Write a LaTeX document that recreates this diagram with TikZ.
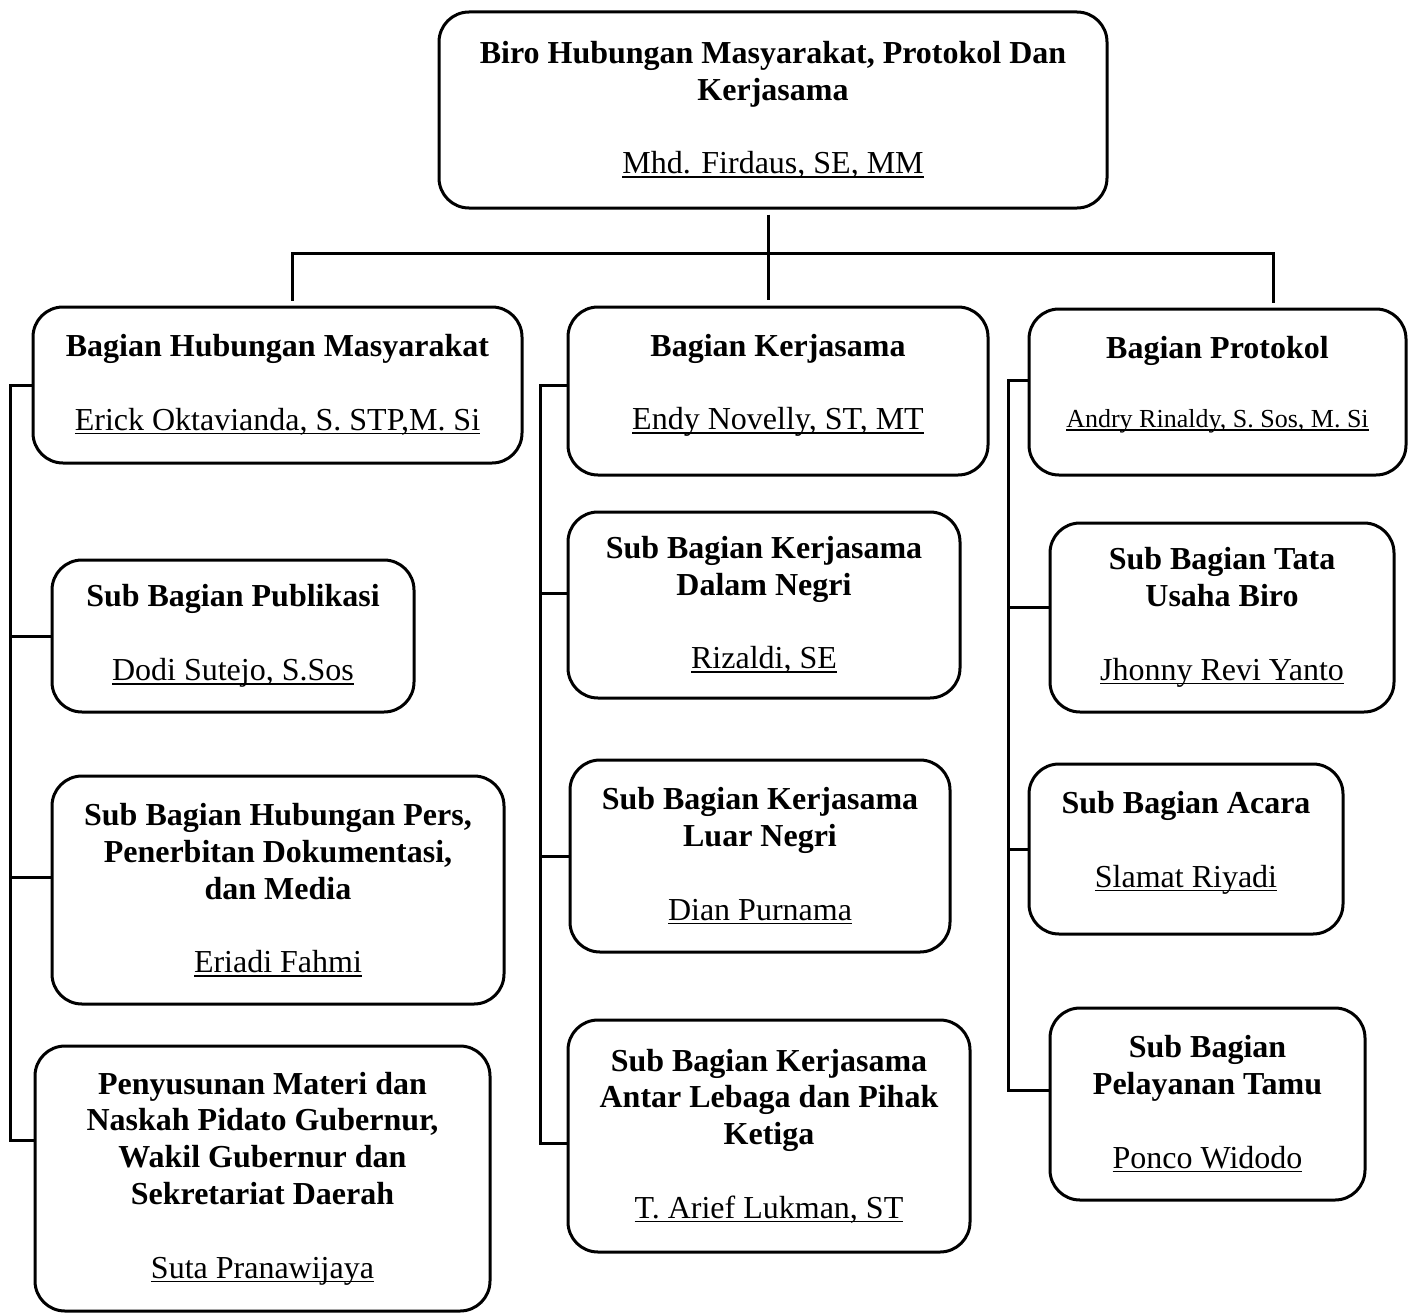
\documentclass[tikz,border=0pt]{standalone}
\usepackage{fontspec}
\setmainfont{Liberation Serif}
\usetikzlibrary{positioning}
\tikzset{
kotak/.style = {draw, line width=3pt, rounded corners=30pt, align=center,
                inner sep=0pt, font=\fontsize{32}{36.8}\selectfont},
garis/.style = {line width=3pt}
}
% name with a low underline
\newcommand{\nama}[1]{\setbox0\hbox{#1}\rlap{\rule[-4pt]{\wd0}{1.6pt}}\box0}
% box from corner (x1,y1) to (x2,y2)
\newcommand{\bagian}[7][]{%
  \pgfmathsetmacro{\bw}{#5-#3}%
  \pgfmathsetmacro{\bh}{#6-#4}%
  \pgfmathsetmacro{\bx}{(#3+#5)/2}%
  \pgfmathsetmacro{\by}{(#4+#6)/2}%
  \node[kotak, minimum width=\bw pt, minimum height=\bh pt, #1] (#2) at (\bx,\by) {#7};}

\begin{document}
\begin{tikzpicture}[x=1pt,y=-1pt]
        \useasboundingbox (0,0) rectangle (1408,1314);
        \bagian{biro}{439}{12}{1107}{208}{\textbf{Biro Hubungan Masyarakat, Protokol Dan}\\\textbf{Kerjasama}\\[36.8pt]\nama{Mhd. Firdaus, SE, MM}}
        \bagian{hum}{33}{307}{522}{463}{\textbf{Bagian Hubungan Masyarakat}\\[36.8pt]\nama{Erick Oktavianda, S. STP,M. Si}}
        \bagian[text depth=18pt]{ker}{568}{307}{988}{475}{\textbf{Bagian Kerjasama}\\[36.8pt]\nama{Endy Novelly, ST, MT}}
        \bagian[text depth=21pt]{pro}{1029}{309}{1406}{475}{\textbf{Bagian Protokol}\\[32pt]{\fontsize{26}{30}\selectfont\nama{Andry Rinaldy, S. Sos, M. Si}}}
        \bagian{pub}{52}{560}{414}{712}{\textbf{Sub Bagian Publikasi}\\[36.8pt]\nama{Dodi Sutejo, S.Sos}}
        \bagian{pers}{52}{776}{504}{1004}{\textbf{Sub Bagian Hubungan Pers,}\\\textbf{Penerbitan Dokumentasi,}\\\textbf{dan Media}\\[36.8pt]\nama{Eriadi Fahmi}}
        \bagian{naskah}{35}{1046}{490}{1311}{\textbf{Penyusunan Materi dan}\\\textbf{Naskah Pidato Gubernur,}\\\textbf{Wakil Gubernur dan}\\\textbf{Sekretariat Daerah}\\[36.8pt]\nama{Suta Pranawijaya}}
        \bagian{dalam}{568}{512}{960}{698}{\textbf{Sub Bagian Kerjasama}\\\textbf{Dalam Negri}\\[36.8pt]\nama{Rizaldi, SE}}
        \bagian{luar}{570}{760}{950}{952}{\textbf{Sub Bagian Kerjasama}\\\textbf{Luar Negri}\\[36.8pt]\nama{Dian Purnama}}
        \bagian{antar}{568}{1020}{970}{1252}{\textbf{Sub Bagian Kerjasama}\\\textbf{Antar Lebaga dan Pihak}\\\textbf{Ketiga}\\[36.8pt]\nama{T. Arief Lukman, ST}}
        \bagian{tu}{1050}{523}{1394}{712}{\textbf{Sub Bagian Tata}\\\textbf{Usaha Biro}\\[36.8pt]\nama{Jhonny Revi Yanto}}
        \bagian[text depth=19pt]{acara}{1029}{764}{1343}{934}{\textbf{Sub Bagian Acara}\\[36.8pt]\nama{Slamat Riyadi}}
        \bagian{tamu}{1050}{1008}{1365}{1200}{\textbf{Sub Bagian}\\\textbf{Pelayanan Tamu}\\[36.8pt]\nama{Ponco Widodo}}
        % top bar
        \coordinate (b1) at (292,253);
        \coordinate (b2) at (768,253);
        \coordinate (b3) at (1273,253);
        \draw[garis, shorten <=5pt, shorten >=6pt] (b2 |- biro.south) -- (b2) -- (b2 |- ker.north);
        \draw[garis, shorten <=5pt, shorten >=5pt] (b1 |- hum.north) -- (b1) -- (b3) -- (b3 |- pro.north);
        % left column
        \coordinate (k1) at (10,1140);
        \draw[garis] (hum.west) -| (k1) -- (k1 -| naskah.west);
        \draw[garis] (pub.west) -- (pub.west -| k1);
        \draw[garis] ([yshift=13pt]pers.west) -- ([yshift=13pt]pers.west -| k1);
        % middle column
        \coordinate (k2) at (540,1143);
        \draw[garis] ([yshift=6pt]ker.west) -| (k2) -- (k2 -| antar.west);
        \draw[garis] ([yshift=12pt]dalam.west) -- ([yshift=12pt]dalam.west -| k2);
        \draw[garis] (luar.west) -- (luar.west -| k2);
        % right column
        \coordinate (k3) at (1008,1090);
        \draw[garis] ([yshift=12pt]pro.west) -| (k3) -- (k3 -| tamu.west);
        \draw[garis] ([yshift=10pt]tu.west) -- ([yshift=10pt]tu.west -| k3);
        \draw[garis] (acara.west) -- (acara.west -| k3);
\end{tikzpicture}
\end{document}
